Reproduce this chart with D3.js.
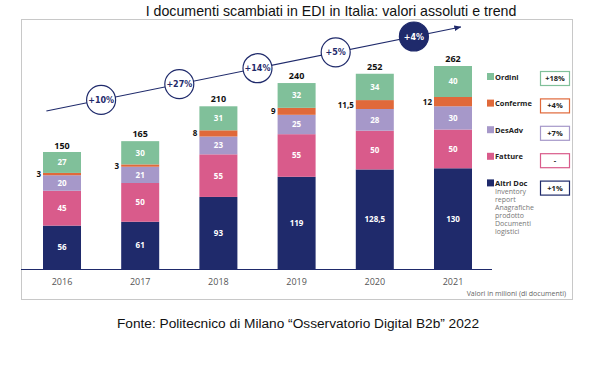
<!DOCTYPE html>
<html>
<head>
<meta charset="utf-8">
<script src="https://cdn.jsdelivr.net/npm/d3@7"></script>
<style>
  body { margin: 0; background: #fff; }
  svg text { font-family: "Open Sans", "Noto Sans", sans-serif; }
</style>
</head>
<body>
<div id="chart"></div>
<script>
// data, valori in milioni di documenti
var years = ["2016", "2017", "2018", "2019", "2020", "2021"];
var series = ["altri", "fatture", "desadv", "conferme", "ordini"];
var seriesNames = ["Altri Doc", "Fatture", "DesAdv", "Conferme", "Ordini"];
var altriDoc = [56, 61, 93, 119, 128.5, 130];
var fatture = [45, 50, 55, 55, 50, 50];
var desAdv = [20, 21, 23, 25, 28, 30];
var conferme = [3, 3, 8, 9, 11.5, 12];
var ordini = [27, 30, 31, 32, 34, 40];
var totals = [150, 165, 210, 240, 252, 262];
var growth = ["+10%", "+27%", "+14%", "+5%", "+4%"];
var seriesTrend = ["+1%", "-", "+7%", "+4%", "+18%"]; // same order as series
var altriNote = ["Inventory", "report", "Anagrafiche", "prodotto", "Documenti", "logistici"];

var colors = {
    altri: "#1f2a6b",
    fatture: "#d95b8b",
    desadv: "#a698c9",
    conferme: "#e0693a",
    ordini: "#80c09a"
};

var fmt = function(v) { return String(v).replace(".", ","); };

var rows = years.map(function(y, i) {
    return {
        year: y, altri: altriDoc[i], fatture: fatture[i], desadv: desAdv[i],
        conferme: conferme[i], ordini: ordini[i], total: totals[i]
    };
});

var W = 600, H = 375;
var svg = d3.select("#chart").append("svg")
    .attr("width", W)
    .attr("height", H);

// frame
svg.append("rect")
    .attr("x", 21.5).attr("y", 19.5)
    .attr("width", 551).attr("height", 280)
    .attr("fill", "none")
    .attr("stroke", "#c8c8c8");

svg.append("text")
    .attr("x", 331).attr("y", 16)
    .attr("text-anchor", "middle")
    .style("font-family", "'Liberation Sans', Arial, sans-serif")
    .style("font-size", "14.2px")
    .attr("fill", "#111")
    .text("I documenti scambiati in EDI in Italia: valori assoluti e trend");

var x = d3.scaleBand()
    .domain(years)
    .range([43, 472])
    .paddingInner(0.514)
    .paddingOuter(0);

var y = d3.scaleLinear()
    .domain([0, 262])
    .range([269, 66]);

var stack = d3.stack().keys(series)(rows);

var layer = svg.selectAll(".layer")
    .data(stack)
    .enter()
    .append("g")
    .attr("class", "layer")
    .attr("fill", function(d) { return colors[d.key]; });

layer.selectAll("rect")
    .data(function(d) { return d; })
    .enter()
    .append("rect")
    .attr("x", function(d) { return x(d.data.year); })
    .attr("y", function(d) { return y(d[1]); })
    .attr("width", x.bandwidth())
    .attr("height", function(d) { return y(d[0]) - y(d[1]); });

// segment labels
stack.forEach(function(s) {
    svg.selectAll(".lbl-" + s.key)
        .data(s)
        .enter()
        .append("text")
        .attr("class", "lbl-" + s.key)
        .attr("x", function(d) {
            return s.key === "conferme" ? x(d.data.year) - 2 : x(d.data.year) + x.bandwidth() / 2;
        })
        .attr("y", function(d) { return (y(d[0]) + y(d[1])) / 2 + 3; })
        .attr("text-anchor", s.key === "conferme" ? "end" : "middle")
        .attr("fill", s.key === "conferme" ? "#111" : "#fff")
        .style("font-size", "8px")
        .style("font-weight", "bold")
        .text(function(d) { return fmt(d.data[s.key]); });
});

// totals
svg.selectAll(".total")
    .data(rows)
    .enter()
    .append("text")
    .attr("class", "total")
    .attr("x", function(d) { return x(d.year) + x.bandwidth() / 2; })
    .attr("y", function(d) { return y(d.total) - 4; })
    .attr("text-anchor", "middle")
    .attr("fill", "#111")
    .style("font-size", "9px")
    .style("font-weight", "bold")
    .text(function(d) { return d.total; });

// baseline + years
svg.append("line")
    .attr("x1", 21).attr("x2", 492)
    .attr("y1", y(0) + 0.5).attr("y2", y(0) + 0.5)
    .attr("stroke", "#1f2a6b")
    .attr("stroke-width", 1.2);

svg.selectAll(".year")
    .data(years)
    .enter()
    .append("text")
    .attr("class", "year")
    .attr("x", function(d) { return x(d) + x.bandwidth() / 2; })
    .attr("y", 285)
    .attr("text-anchor", "middle")
    .attr("fill", "#555")
    .style("font-size", "9px")
    .text(function(d) { return d; });

svg.append("text")
    .attr("x", 566).attr("y", 296)
    .attr("text-anchor", "end")
    .attr("fill", "#666")
    .style("font-size", "7px")
    .text("Valori in milioni (di documenti)");

// trend arrow
var idx = d3.scaleLinear()
    .domain([0, years.length - 1])
    .range([x(years[0]) + x.bandwidth() / 2, x(years[years.length - 1]) + x.bandwidth() / 2]);
var trendY = d3.scaleLinear().domain([-0.2, 5.1]).range([111, 27]);

svg.append("defs").append("marker")
    .attr("id", "arrow")
    .attr("viewBox", "0 0 10 10")
    .attr("refX", 9).attr("refY", 5)
    .attr("markerWidth", 6).attr("markerHeight", 6)
    .attr("orient", "auto")
    .append("path")
    .attr("d", "M0,1 L10,5 L0,9 z")
    .attr("fill", "#1f2a6b");

svg.append("line")
    .attr("x1", idx(-0.2)).attr("y1", trendY(-0.2))
    .attr("x2", idx(5.1)).attr("y2", trendY(5.1))
    .attr("stroke", "#1f2a6b")
    .attr("stroke-width", 1.2)
    .attr("marker-end", "url(#arrow)");

var bub = svg.selectAll(".bubble")
    .data(growth)
    .enter()
    .append("g")
    .attr("class", "bubble")
    .attr("transform", function(d, i) {
        return "translate(" + idx(i + 0.5) + "," + trendY(i + 0.5) + ")";
    });

bub.append("circle")
    .attr("r", 14.5)
    .attr("fill", function(d, i) { return i === growth.length - 1 ? "#1f2a6b" : "#fff"; })
    .attr("stroke", "#1f2a6b")
    .attr("stroke-width", 1.2);

bub.append("text")
    .attr("y", 3)
    .attr("text-anchor", "middle")
    .attr("fill", function(d, i) { return i === growth.length - 1 ? "#fff" : "#1f2a6b"; })
    .style("font-family", "'DejaVu Sans', sans-serif")
    .style("font-size", "8px")
    .style("font-weight", "bold")
    .text(function(d) { return d; });

// legend
var legendOrder = series.slice().reverse();
var leg = svg.selectAll(".legend")
    .data(legendOrder)
    .enter()
    .append("g")
    .attr("class", "legend")
    .attr("transform", function(d, i) { return "translate(487," + (77 + i * 26.6) + ")"; });

leg.append("rect")
    .attr("x", 0).attr("y", -4)
    .attr("width", 7).attr("height", 7)
    .attr("fill", function(d) { return colors[d]; });

leg.append("text")
    .attr("x", 8).attr("y", 2.5)
    .attr("fill", "#222")
    .style("font-size", "7.5px")
    .style("font-weight", "bold")
    .text(function(d) { return seriesNames[series.indexOf(d)]; });

leg.append("rect")
    .attr("x", 53.5).attr("y", function(d, i) { return -5.5 + i * 0.8; })
    .attr("width", 29).attr("height", 14)
    .attr("fill", "#fff")
    .attr("stroke", function(d) { return colors[d]; })
    .attr("stroke-width", 1.2);

leg.append("text")
    .attr("x", 68).attr("y", function(d, i) { return 4 + i * 0.8; })
    .attr("text-anchor", "middle")
    .attr("fill", "#222")
    .style("font-size", "7.5px")
    .style("font-weight", "bold")
    .text(function(d) { return seriesTrend[series.indexOf(d)]; });

svg.selectAll(".note")
    .data(altriNote)
    .enter()
    .append("text")
    .attr("class", "note")
    .attr("x", 495)
    .attr("y", function(d, i) { return 77 + 4 * 26.6 + 10.5 + i * 8; })
    .attr("fill", "#777")
    .style("font-size", "7px")
    .text(function(d) { return d; });

svg.append("text")
    .attr("x", 298).attr("y", 328)
    .attr("text-anchor", "middle")
    .style("font-family", "'Liberation Sans', Arial, sans-serif")
    .style("font-size", "13.7px")
    .attr("fill", "#111")
    .text("Fonte: Politecnico di Milano \u201cOsservatorio Digital B2b\u201d 2022");
</script>
</body>
</html>
